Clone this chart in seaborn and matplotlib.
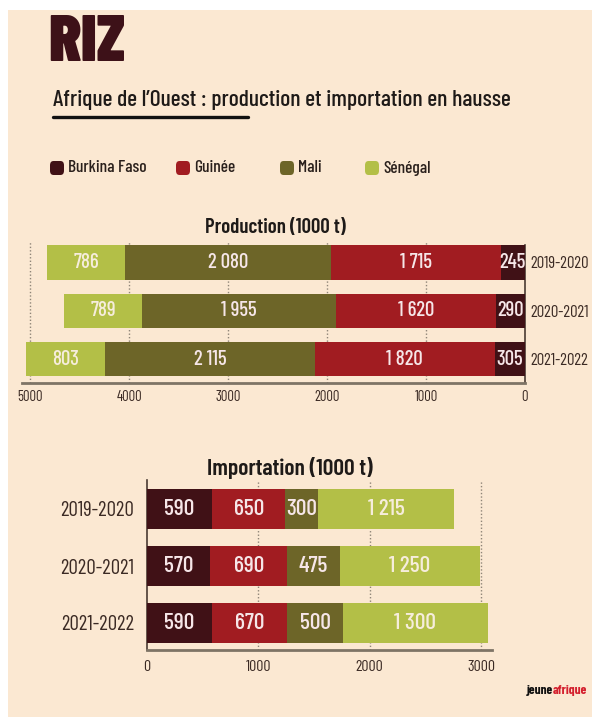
import matplotlib
matplotlib.use("Agg")
import matplotlib.pyplot as plt
import seaborn as sns
import pandas as pd
import numpy as np
from matplotlib import font_manager
from matplotlib.patches import Rectangle, FancyBboxPatch
from matplotlib.lines import Line2D

# Data (1000 t)
years = ["2019-2020", "2020-2021", "2021-2022"]
countries = ["Burkina Faso", "Guinée", "Mali", "Sénégal"]
prod_burkina = [245, 290, 305]
prod_guinee = [1715, 1620, 1820]
prod_mali = [2080, 1955, 2115]
prod_senegal = [786, 789, 803]
prod_labels = [["245", "290", "305"], ["1 715", "1 620", "1 820"],
               ["2 080", "1 955", "2 115"], ["786", "789", "803"]]
imp_burkina = [590, 570, 590]
imp_guinee = [650, 690, 670]
imp_mali = [300, 475, 500]
imp_senegal = [1215, 1250, 1300]
imp_labels = [["590", "570", "590"], ["650", "690", "670"],
              ["300", "475", "500"], ["1 215", "1 250", "1 300"]]
prod_ticks = [5000, 4000, 3000, 2000, 1000, 0]
imp_ticks = [0, 1000, 2000, 3000]

colors = ["#401116", "#a11c21", "#6d6528", "#b3bf47"]
BG = "#fbe8d2"
DARK = "#3b2a24"

sns.set_theme(style="white")
avail = {f.name for f in font_manager.fontManager.ttflist}
font = "DejaVu Sans"
for cand in ["Barlow Condensed", "PT Sans Narrow", "Roboto Condensed", "Oswald",
             "Archivo Narrow", "Liberation Sans Narrow"]:
    if cand in avail:
        font = cand
        break
plt.rcParams["font.family"] = [font, "DejaVu Sans"]

W, H = 592, 717
fig = plt.figure(figsize=(W / 100, H / 100), dpi=100, facecolor="white")
fig.patches.append(Rectangle((8 / W, 0), 1, 1 - 10 / H, transform=fig.transFigure,
                             facecolor=BG, edgecolor="none", zorder=-10))


def fx(px):
    return px / W


def fy(py):
    return 1 - py / H


# Header
fig.text(fx(48), fy(44), "RIZ", fontsize=48, fontweight="black", color="#3d1118", va="center")
fig.text(fx(53), fy(100), "Afrique de l’Ouest : production et importation en hausse",
         fontsize=17, fontweight="medium", color="#1e1a18", va="center")
fig.add_artist(Line2D([fx(53), fx(248)], [fy(117), fy(117)], color="#111111", lw=2.4))

# Legend
leg_x = [50, 176, 280, 365]
for c, x, name in zip(colors, leg_x, countries):
    fig.patches.append(FancyBboxPatch((fx(x), fy(175)), fx(14), 14 / H,
                                      boxstyle="round,pad=0,rounding_size=0.006",
                                      transform=fig.transFigure, facecolor=c, edgecolor="none"))
    fig.text(fx(x + 18), fy(168), name, fontsize=12.5, fontweight="medium",
             color="#2a201c", va="center")


def stacked(ax, parts, labels, width, fs):
    cum = np.zeros(len(years))
    cums = []
    for p in parts:
        cum = cum + np.array(p)
        cums.append(cum.copy())
    # draw from the longest cumulative down so each segment shows
    for c, tot in reversed(list(zip(colors, cums))):
        df = pd.DataFrame({"year": years, "value": tot})
        sns.barplot(data=df, x="value", y="year", order=years, color=c, saturation=1,
                    width=width, orient="h", ax=ax, zorder=3, linewidth=0, edgecolor="none")
    prev = np.zeros(len(years))
    for i, (p, lab) in enumerate(zip(parts, labels)):
        tc = "#f6eddc" if i == 3 else "#f6e6e8"
        for j in range(len(years)):
            ax.text(prev[j] + p[j] / 2, j, lab[j], ha="center", va="center",
                    fontsize=fs, fontweight="medium", color=tc, zorder=5)
        prev = prev + np.array(p)


# Production
ax1 = fig.add_axes([fx(22), fy(383), fx(525 - 22), (383 - 241) / H])
ax1.set_facecolor("none")
stacked(ax1, [prod_burkina, prod_guinee, prod_mali, prod_senegal], prod_labels, 0.71, 15)
ax1.set_xlim(5081, 0)
ax1.set_ylim(2 + 24 / 48.5, -21.5 / 48.5)
ax1.set_xticks(prod_ticks)
ax1.set_xticklabels([str(t) for t in prod_ticks], fontsize=10.5, color=DARK)
ax1.yaxis.tick_right()
ax1.tick_params(axis="y", length=0, pad=4, labelsize=12, labelcolor=DARK)
ax1.tick_params(axis="x", length=0, pad=5)
ax1.set_xlabel("")
ax1.set_ylabel("")
for t in prod_ticks[:-1]:
    ax1.axvline(t, color="#8f8578", lw=1, ls=(0, (1, 1.5)), zorder=1)
for s in ["top", "left"]:
    ax1.spines[s].set_visible(False)
ax1.spines["bottom"].set_color("#7e7466")
ax1.spines["bottom"].set_linewidth(2)
ax1.spines["right"].set_color("#4a3b33")
ax1.spines["right"].set_linewidth(1.2)
ax1.spines["right"].set_bounds(2 + 24 / 48.5, -0.36)
fig.text(fx(275), fy(228), "Production (1000 t)", fontsize=15, fontweight="semibold",
         color="#1e1a18", ha="center", va="center")

# Importation
ax2 = fig.add_axes([fx(146.7), fy(650), fx(492 - 146.7), (650 - 480) / H])
ax2.set_facecolor("none")
stacked(ax2, [imp_burkina, imp_guinee, imp_mali, imp_senegal], imp_labels, 0.70, 17)
ax2.set_xlim(0, 3097)
ax2.set_ylim(2 + 27 / 57, -29 / 57)
ax2.set_xticks(imp_ticks)
ax2.set_xticklabels([str(t) for t in imp_ticks], fontsize=11.5, color=DARK)
ax2.tick_params(axis="y", length=0, pad=9, labelsize=15, labelcolor=DARK)
ax2.tick_params(axis="x", length=0, pad=7)
ax2.set_xlabel("")
ax2.set_ylabel("")
for t in imp_ticks[1:]:
    ax2.axvline(t, color="#8f8578", lw=1, ls=(0, (1, 1.5)), zorder=1)
for s in ["top", "right"]:
    ax2.spines[s].set_visible(False)
ax2.spines["bottom"].set_color("#7e7466")
ax2.spines["bottom"].set_linewidth(2)
ax2.spines["left"].set_color("#4a3b33")
ax2.spines["left"].set_linewidth(1.2)
fig.text(fx(290), fy(468), "Importation (1000 t)", fontsize=17, fontweight="semibold",
         color="#1e1a18", ha="center", va="center")

# Source logo, right-aligned near the corner
t2 = fig.text(fx(587), fy(690), "afrique", fontsize=9.5, fontweight="bold",
              color="#d4202e", va="center", ha="right")
fig.canvas.draw()
bb = t2.get_window_extent()
fig.text(bb.x0 / fig.dpi / fig.get_figwidth(), fy(690), "jeune", fontsize=9.5,
         fontweight="bold", color="#111111", va="center", ha="right")

fig.savefig("out.png", dpi=100, facecolor="white")
